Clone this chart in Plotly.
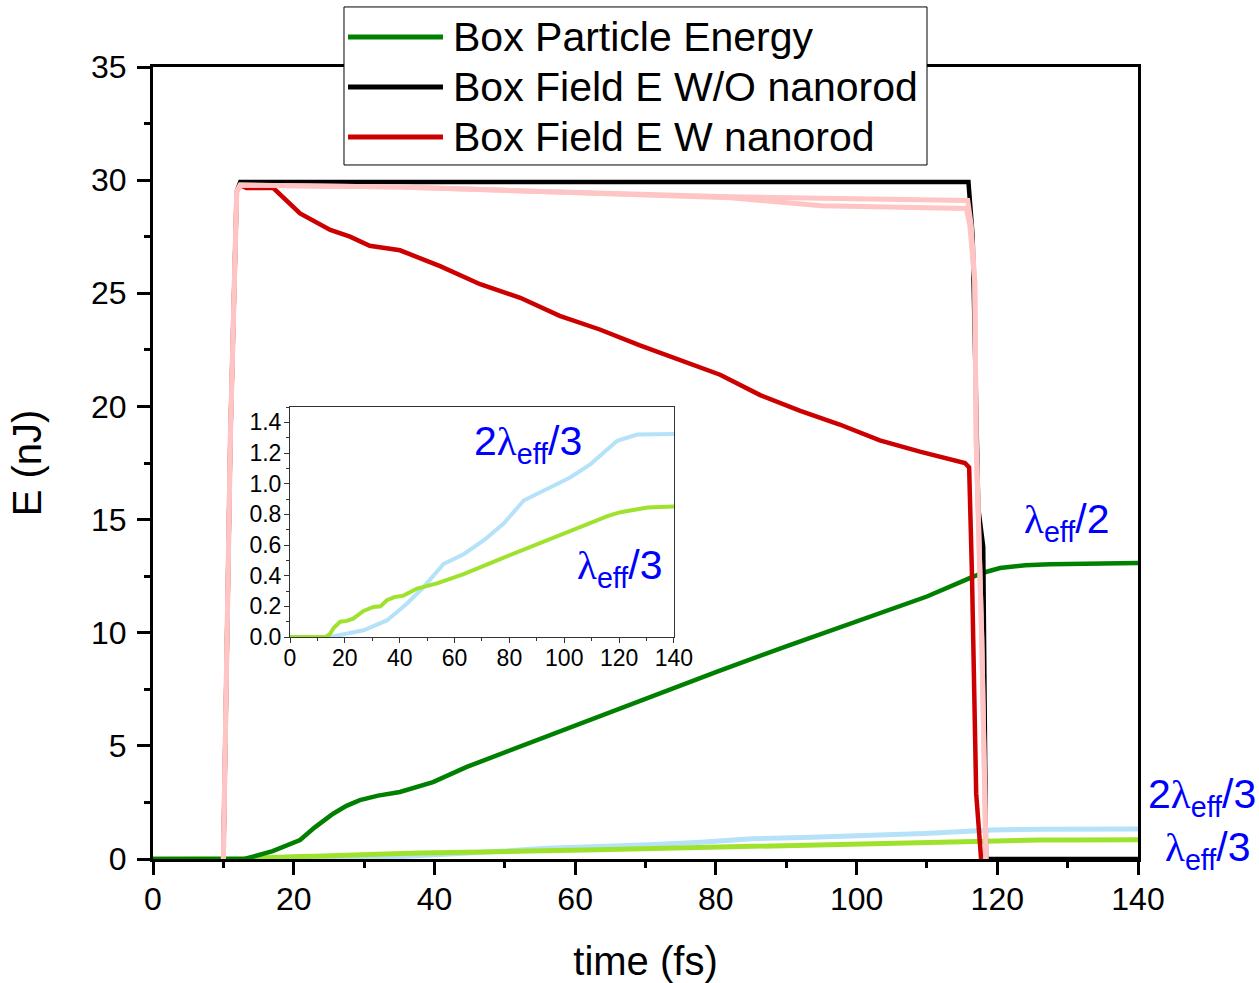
import plotly.graph_objects as go

# ---------------- data ----------------
# Box particle energy (nJ)
green_x = [0, 13, 14.2, 17, 20.9, 23, 25.6, 27.5, 29.4, 32, 35.1, 39.8, 44.6, 50.7,
           60, 70, 80, 90, 100, 110, 116, 118, 120.4, 124, 127.5, 133, 140]
green_y = [0, 0, 0.1, 0.35, 0.84, 1.4, 2.0, 2.35, 2.6, 2.8, 2.96, 3.4, 4.07, 4.8,
           5.9, 7.1, 8.26, 9.4, 10.5, 11.6, 12.4, 12.65, 12.86, 12.98, 13.03, 13.07, 13.08]

# Box field energy without nanorod (nJ)
black_x = [10, 10.8, 11.0, 11.9, 12.4, 20, 40, 60, 80, 100, 115.9, 116.5, 117.3, 118.0, 118.4, 140]
black_y = [0, 16, 18.7, 29.5, 29.92, 29.92, 29.92, 29.92, 29.9, 29.92, 29.92, 27.5, 15.5, 13.8, 0, 0]

# Box field energy with nanorod (nJ)
red_x = [10, 10.8, 11.0, 11.9, 12.4, 13.3, 17.1, 20.9, 25.2, 28.0, 30.8, 35.1, 40.8,
         46.5, 52.2, 57.8, 63.5, 69.2, 74.9, 80.6, 86.3, 92.0, 97.6, 103.3, 109.0,
         115.4, 116.0, 116.4, 117.0, 117.7]
red_y = [0, 16, 18.7, 29.5, 29.78, 29.65, 29.65, 28.53, 27.8, 27.5, 27.1, 26.9, 26.2,
         25.4, 24.8, 24.0, 23.4, 22.7, 22.05, 21.4, 20.5, 19.8, 19.2, 18.5, 18.0,
         17.5, 17.3, 12.6, 2.9, 0]

# Field energy, other cases (light pink)
pinkA_x = [10, 10.8, 11.0, 11.9, 12.4, 20, 35, 50, 63.5, 82, 95, 115.8, 116.3, 116.8, 117.0, 117.8, 118.4]
pinkA_y = [0, 16, 18.7, 29.5, 29.78, 29.75, 29.7, 29.55, 29.42, 29.27, 29.2, 29.1, 28.0, 25.5, 18.5, 9.7, 0]
pinkB_x = [10, 10.8, 11.0, 11.9, 12.4, 20, 35, 50, 63.5, 82, 95, 115.6, 116.1, 116.8, 117.0, 117.8, 118.4]
pinkB_y = [0, 16, 18.7, 29.5, 29.78, 29.75, 29.7, 29.55, 29.42, 29.22, 28.87, 28.75, 28.0, 25.5, 18.5, 9.7, 0]

# Particle energy, 2*lambda_eff/3 (light blue) and lambda_eff/3 (light green)
blue_x = [0, 14.6, 26.8, 35.3, 42.6, 48.7, 56.0, 63.3, 70.6, 77.9, 85.2, 93.7, 102.3, 109.6, 119.3, 126.6, 140]
blue_y = [0, 0, 0.044, 0.108, 0.217, 0.326, 0.477, 0.54, 0.63, 0.74, 0.89, 0.966, 1.042, 1.128, 1.28, 1.32, 1.324]
lgreen_x = [0, 13, 14.6, 16, 18.3, 20.7, 23, 26.8, 30.4, 33, 35.3, 38, 41.4, 46.3, 53.6,
            63.3, 75.5, 87.7, 99.8, 110, 116, 120.5, 126, 130.3, 140]
lgreen_y = [0, 0, 0.02, 0.06, 0.10, 0.105, 0.12, 0.17, 0.196, 0.20, 0.24, 0.26, 0.27, 0.316, 0.35,
            0.41, 0.50, 0.586, 0.672, 0.75, 0.79, 0.814, 0.835, 0.845, 0.851]

main_xticks = [0, 20, 40, 60, 80, 100, 120, 140]
main_yticks = [0, 5, 10, 15, 20, 25, 30, 35]
inset_xticks = [0, 20, 40, 60, 80, 100, 120, 140]
inset_yticks = [0.0, 0.2, 0.4, 0.6, 0.8, 1.0, 1.2, 1.4]
inset_ytext = ["0.0", "0.2", "0.4", "0.6", "0.8", "1.0", "1.2", "1.4"]

legend_names = ["Box Particle Energy", "Box Field E W/O nanorod", "Box Field E W nanorod"]

C_GREEN = "#008000"
C_BLACK = "#000000"
C_RED = "#CC0000"
C_PINK = "#FFC4C4"
C_LBLUE = "#B5E2F8"
C_LGREEN = "#9EE22E"
C_ANN = "#0000FF"
FONT = "Liberation Sans, Arial, sans-serif"
LAM = '<span style="font-family:Liberation Serif, serif">λ</span>'

fig = go.Figure()

# main axes traces
fig.add_trace(go.Scatter(x=blue_x, y=blue_y, mode="lines", line=dict(color=C_LBLUE, width=5), showlegend=False))
fig.add_trace(go.Scatter(x=lgreen_x, y=lgreen_y, mode="lines", line=dict(color=C_LGREEN, width=5), showlegend=False))
fig.add_trace(go.Scatter(x=green_x, y=green_y, mode="lines", name=legend_names[0],
                         line=dict(color=C_GREEN, width=4.5), showlegend=False))
fig.add_trace(go.Scatter(x=black_x, y=black_y, mode="lines", name=legend_names[1],
                         line=dict(color=C_BLACK, width=4.5), showlegend=False))
fig.add_trace(go.Scatter(x=red_x, y=red_y, mode="lines", name=legend_names[2],
                         line=dict(color=C_RED, width=4.5), showlegend=False))
fig.add_trace(go.Scatter(x=pinkB_x, y=pinkB_y, mode="lines", line=dict(color=C_PINK, width=5), showlegend=False))
fig.add_trace(go.Scatter(x=pinkA_x, y=pinkA_y, mode="lines", line=dict(color=C_PINK, width=5), showlegend=False))

# inset traces
fig.add_trace(go.Scatter(x=blue_x, y=blue_y, mode="lines", line=dict(color=C_LBLUE, width=4),
                         xaxis="x2", yaxis="y2", showlegend=False))
fig.add_trace(go.Scatter(x=lgreen_x, y=lgreen_y, mode="lines", line=dict(color=C_LGREEN, width=4),
                         xaxis="x2", yaxis="y2", showlegend=False))

fig.update_layout(
    width=1259, height=983,
    margin=dict(l=153, r=121, t=67, b=124, autoexpand=False),
    paper_bgcolor="white", plot_bgcolor="white",
    font=dict(family=FONT, color="black"),
    showlegend=False,
    xaxis=dict(range=[0, 140], tickvals=main_xticks, showgrid=False, zeroline=False,
               showline=True, linecolor="black", linewidth=3, mirror=True,
               ticks="outside", ticklen=13, tickwidth=3, tickcolor="black",
               minor=dict(dtick=10, ticks="outside", ticklen=6, tickwidth=3, tickcolor="black", showgrid=False),
               tickfont=dict(size=32, family=FONT), ticklabelstandoff=-3,
               title=dict(text="time (fs)", font=dict(size=40, family=FONT), standoff=32)),
    yaxis=dict(range=[0, 35], tickvals=main_yticks, showgrid=False, zeroline=False,
               showline=True, linecolor="black", linewidth=3, mirror=True,
               ticks="outside", ticklen=13, tickwidth=3, tickcolor="black",
               minor=dict(dtick=2.5, ticks="outside", ticklen=6, tickwidth=3, tickcolor="black", showgrid=False),
               tickfont=dict(size=32, family=FONT), ticklabelstandoff=4,
               title=dict(text="E (nJ)", font=dict(size=40, family=FONT), standoff=38)),
    xaxis2=dict(domain=[0.1391, 0.5289], anchor="y2", range=[0, 140], tickvals=inset_xticks,
                showgrid=False, zeroline=False, showline=True, linecolor="#333333", linewidth=1, mirror=True,
                ticks="outside", ticklen=5, tickwidth=1, tickcolor="#333333",
                minor=dict(dtick=10, ticks="outside", ticklen=3, tickwidth=1, tickcolor="#333333", showgrid=False),
                tickfont=dict(size=23, family=FONT), ticklabelstandoff=-5),
    yaxis2=dict(domain=[0.2803, 0.5707], anchor="x2", range=[0, 1.5], tickvals=inset_yticks, ticktext=inset_ytext,
                showgrid=False, zeroline=False, showline=True, linecolor="#333333", linewidth=1, mirror=True,
                ticks="outside", ticklen=5, tickwidth=1, tickcolor="#333333",
                minor=dict(dtick=0.1, ticks="outside", ticklen=3, tickwidth=1, tickcolor="#333333", showgrid=False),
                tickfont=dict(size=23, family=FONT), ticklabelstandoff=-2),
)

# ---- legend box drawn in paper coordinates ----
fig.add_shape(type="rect", xref="paper", yref="paper", x0=0.1939, x1=0.7858, y0=0.8763, y1=1.0758,
              line=dict(color="black", width=1), fillcolor="white", layer="above")
legend_colors = [C_GREEN, C_BLACK, C_RED]
legend_rows = [1.0379, 0.9747, 0.9116]
for name, col, yy in zip(legend_names, legend_colors, legend_rows):
    fig.add_shape(type="line", xref="paper", yref="paper", x0=0.198, x1=0.2944, y0=yy, y1=yy,
                  line=dict(color=col, width=5), layer="above")
    fig.add_annotation(text=name, xref="paper", yref="paper", x=0.3025, y=yy, xanchor="left",
                       yanchor="middle", showarrow=False, font=dict(size=41, family=FONT, color="black"))

# ---- curve labels ----
ann = [
    dict(text=LAM + "<sub>eff</sub>/2", x=129.8, y=14.9, xref="x", yref="y"),
    dict(text="2" + LAM + "<sub>eff</sub>/3", x=1.065, y=2.74, xref="paper", yref="y"),
    dict(text=LAM + "<sub>eff</sub>/3", x=1.071, y=0.4, xref="paper", yref="y"),
    dict(text="2" + LAM + "<sub>eff</sub>/3", x=86.8, y=1.26, xref="x2", yref="y2"),
    dict(text=LAM + "<sub>eff</sub>/3", x=120.3, y=0.447, xref="x2", yref="y2"),
]
for a in ann:
    fig.add_annotation(text=a["text"], x=a["x"], y=a["y"], xref=a["xref"], yref=a["yref"],
                       showarrow=False, xanchor="center", yanchor="middle",
                       font=dict(size=41, color=C_ANN, family=FONT))

fig.write_html("out.html", config={"displayModeBar": False},
               post_script="document.body.style.margin='0';document.body.style.padding='0';")
